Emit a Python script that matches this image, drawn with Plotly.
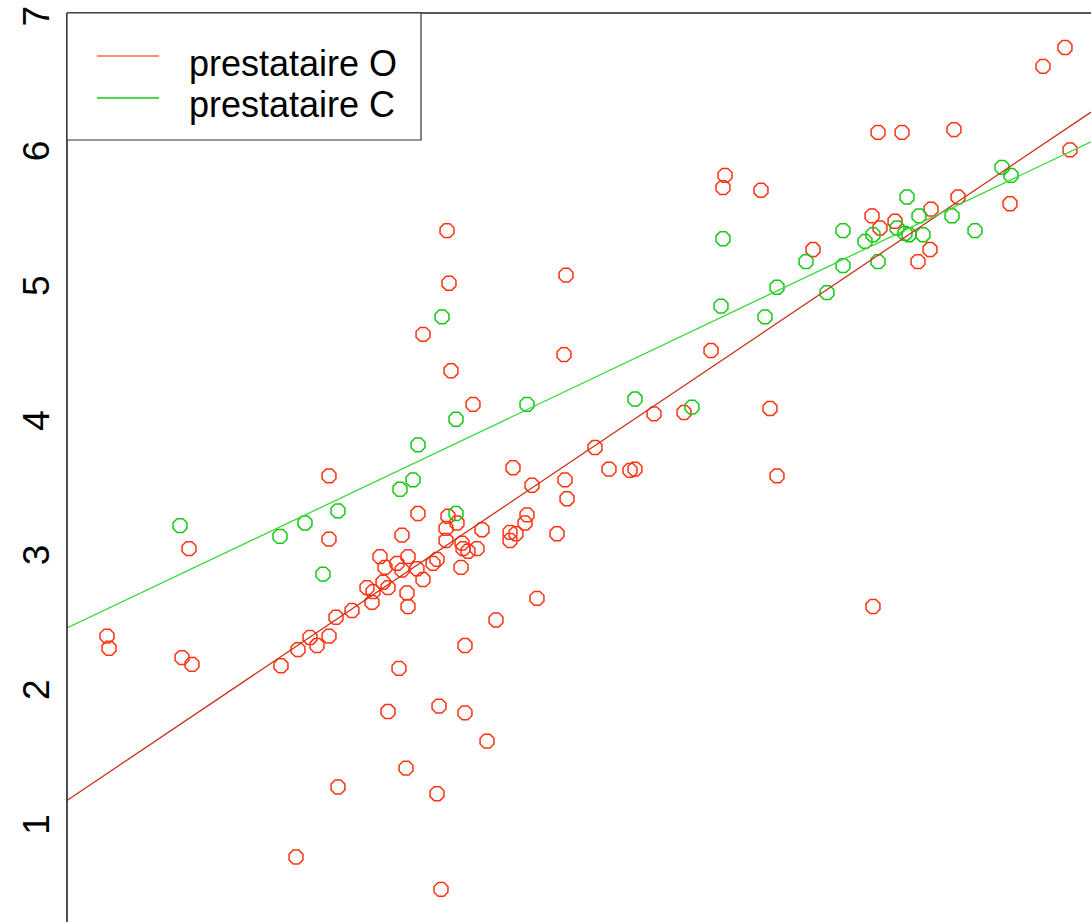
import plotly.graph_objects as go

# ---- data ----
red_x = [4.0, 4.2, 11.5, 12.5, 12.2, 21.4, 22.9, 23.1, 24.3, 25.0, 26.2, 26.9, 26.2, 26.2, 27.1,
         28.5, 30.0, 30.6, 30.5, 31.3, 31.6, 32.1, 31.8, 32.1, 33.0, 33.2, 33.5, 33.5, 34.0, 34.1,
         33.9, 34.1, 35.0, 35.1, 35.6, 35.6, 36.6, 37.0, 37.0, 37.2, 37.4, 37.9, 37.9, 38.1, 38.0,
         38.2, 38.4, 39.0, 39.5, 39.6, 39.4, 39.8, 39.8, 40.1, 40.6, 41.0, 41.5, 42.0, 42.9, 44.3,
         44.9, 44.3, 44.6, 46.0, 45.8, 46.5, 47.0, 49.0, 49.7, 49.9, 49.8, 50.0, 52.8, 54.2, 56.3,
         56.8, 58.7, 61.7, 64.4, 65.6, 65.8, 69.4, 70.3, 71.0, 74.6, 80.5, 80.6, 81.1, 81.3, 82.8,
         83.5, 85.1, 86.3, 86.4, 88.7, 89.1, 94.3, 97.6, 99.8, 100.3]
red_y = [2.38, 2.29, 2.22, 2.17, 3.03, 2.16, 0.74, 2.28, 2.37, 2.31, 2.38, 2.52, 3.57, 3.10, 1.26,
         2.57, 2.74, 2.71, 2.63, 2.97, 2.78, 2.74, 2.89, 1.82, 2.92, 2.14, 3.13, 2.87, 2.70, 2.60,
         1.40, 2.97, 2.88, 3.29, 4.62, 2.80, 2.92, 2.95, 1.21, 1.86, 0.50, 3.09, 3.18, 3.27, 5.39,
         5.00, 4.35, 3.22, 3.07, 3.03, 2.89, 1.81, 2.31, 3.01, 4.10, 3.03, 3.17, 1.60, 2.50, 3.15,
         3.14, 3.09, 3.63, 3.28, 3.22, 3.50, 2.66, 3.14, 4.47, 5.06, 3.54, 3.40, 3.78, 3.62, 3.61,
         3.62, 4.03, 4.04, 4.50, 5.71, 5.80, 5.69, 4.07, 3.57, 5.25, 5.50, 2.60, 6.12, 5.41, 5.46,
         6.12, 5.16, 5.25, 5.55, 6.14, 5.64, 5.59, 6.61, 6.75, 5.99]

green_x = [11.3, 21.3, 23.8, 27.1, 25.6, 33.3, 34.6, 35.1, 37.5, 38.9, 38.9, 46.0, 56.8, 62.5,
           65.4, 65.6, 69.8, 71.0, 73.9, 76.0, 77.6, 77.6, 79.8, 80.6, 81.1, 83.0, 83.8, 84.0,
           84.2, 85.2, 85.6, 88.5, 90.8, 93.5, 94.4]
green_y = [3.20, 3.12, 3.22, 3.31, 2.84, 3.47, 3.54, 3.80, 4.75, 3.99, 3.29, 4.10, 4.14, 4.08,
           4.83, 5.33, 4.75, 4.97, 5.16, 4.93, 5.39, 5.13, 5.31, 5.36, 5.16, 5.41, 5.37, 5.64,
           5.36, 5.50, 5.36, 5.50, 5.39, 5.86, 5.80]

# fitted regression lines (end points)
red_fit_x = [0.0, 102.4]
red_fit_y = [1.16, 6.27]
green_fit_x = [0.0, 102.4]
green_fit_y = [2.44, 6.05]

series_names = ["prestataire O", "prestataire C"]
y_ticks = [1, 2, 3, 4, 5, 6, 7]
y_tick_labels = ["1", "2", "3", "4", "5", "6", "7"]

# ---- styling ----
RED_PT = "#ff3312"
GREEN_PT = "#14c814"
RED_LINE = "#c8321a"
GREEN_LINE = "#3ad83a"
FONT = "Liberation Sans, Arial, sans-serif"

W, H = 1091, 922
ML = 67
FRAME_TOP_PX = 13
PW, PH = W - ML, H

def px2paper_x(px):
    return (px - ML) / PW

def px2paper_y(py):
    return (H - py) / PH

fig = go.Figure()
fig.add_trace(go.Scatter(x=red_x, y=red_y, mode="markers", name=series_names[0],
                         marker=dict(symbol="octagon-open", size=15, color=RED_PT,
                                     line=dict(width=1.5, color=RED_PT)),
                         showlegend=False))
fig.add_trace(go.Scatter(x=green_x, y=green_y, mode="markers", name=series_names[1],
                         marker=dict(symbol="octagon-open", size=15, color=GREEN_PT,
                                     line=dict(width=1.5, color=GREEN_PT)),
                         showlegend=False))
fig.add_trace(go.Scatter(x=red_fit_x, y=red_fit_y, mode="lines",
                         line=dict(color=RED_LINE, width=1.3), showlegend=False))
fig.add_trace(go.Scatter(x=green_fit_x, y=green_fit_y, mode="lines",
                         line=dict(color=GREEN_LINE, width=1.3), showlegend=False))

# y scale: value v sits at pixel 822 - (v-1)*s
s = 134.7
y_lo = 1 + (822 - H) / s
y_hi = 1 + (822 - 0) / s
y_frame_top = 1 + (822 - FRAME_TOP_PX) / s

fig.update_layout(
    width=W, height=H,
    margin=dict(l=ML, r=0, t=0, b=0, pad=0, autoexpand=False),
    paper_bgcolor="white", plot_bgcolor="white",
    font=dict(family=FONT, color="black"),
    xaxis=dict(range=[0, 102.4], showgrid=False, zeroline=False, showticklabels=False,
               ticks="", showline=False, automargin=False),
    yaxis=dict(range=[y_lo, y_hi], showgrid=False, zeroline=False,
               tickvals=y_ticks, ticktext=y_tick_labels, tickangle=-90,
               tickfont=dict(size=37, family=FONT, color="black"),
               ticks="", showline=False, ticklabelstandoff=10,
               ticklabelshift=8, ticklabeloverflow="allow", automargin=False),
    showlegend=False,
)

shapes = []
# frame: top and left lines
shapes.append(dict(type="line", xref="paper", yref="y", x0=0, x1=1.01,
                   y0=y_frame_top, y1=y_frame_top, line=dict(color="#222222", width=1.5)))
shapes.append(dict(type="line", xref="paper", yref="y", x0=0, x1=0,
                   y0=y_frame_top, y1=y_lo - 0.05, line=dict(color="#222222", width=1.6)))
# legend box
shapes.append(dict(type="rect", xref="paper", yref="paper",
                   x0=0, x1=px2paper_x(421), y0=px2paper_y(140), y1=px2paper_y(FRAME_TOP_PX),
                   line=dict(color="#333333", width=1.2), fillcolor="white", layer="above"))
# legend line samples
shapes.append(dict(type="line", xref="paper", yref="paper",
                   x0=px2paper_x(97), x1=px2paper_x(159), y0=px2paper_y(56), y1=px2paper_y(56),
                   line=dict(color="#ff6a4a", width=1.3), layer="above"))
shapes.append(dict(type="line", xref="paper", yref="paper",
                   x0=px2paper_x(97), x1=px2paper_x(159), y0=px2paper_y(98), y1=px2paper_y(98),
                   line=dict(color="#10cc10", width=1.3), layer="above"))
fig.update_layout(shapes=shapes)

fig.add_annotation(text=series_names[0], xref="paper", yref="paper",
                   x=px2paper_x(187), y=px2paper_y(63), xanchor="left", yanchor="middle",
                   showarrow=False, font=dict(size=36, family=FONT, color="black"))
fig.add_annotation(text=series_names[1], xref="paper", yref="paper",
                   x=px2paper_x(187), y=px2paper_y(104), xanchor="left", yanchor="middle",
                   showarrow=False, font=dict(size=36, family=FONT, color="black"))

fig.write_html("out.html", config={"displayModeBar": False},
               post_script="document.body.style.margin='0';document.body.style.overflow='hidden';")
